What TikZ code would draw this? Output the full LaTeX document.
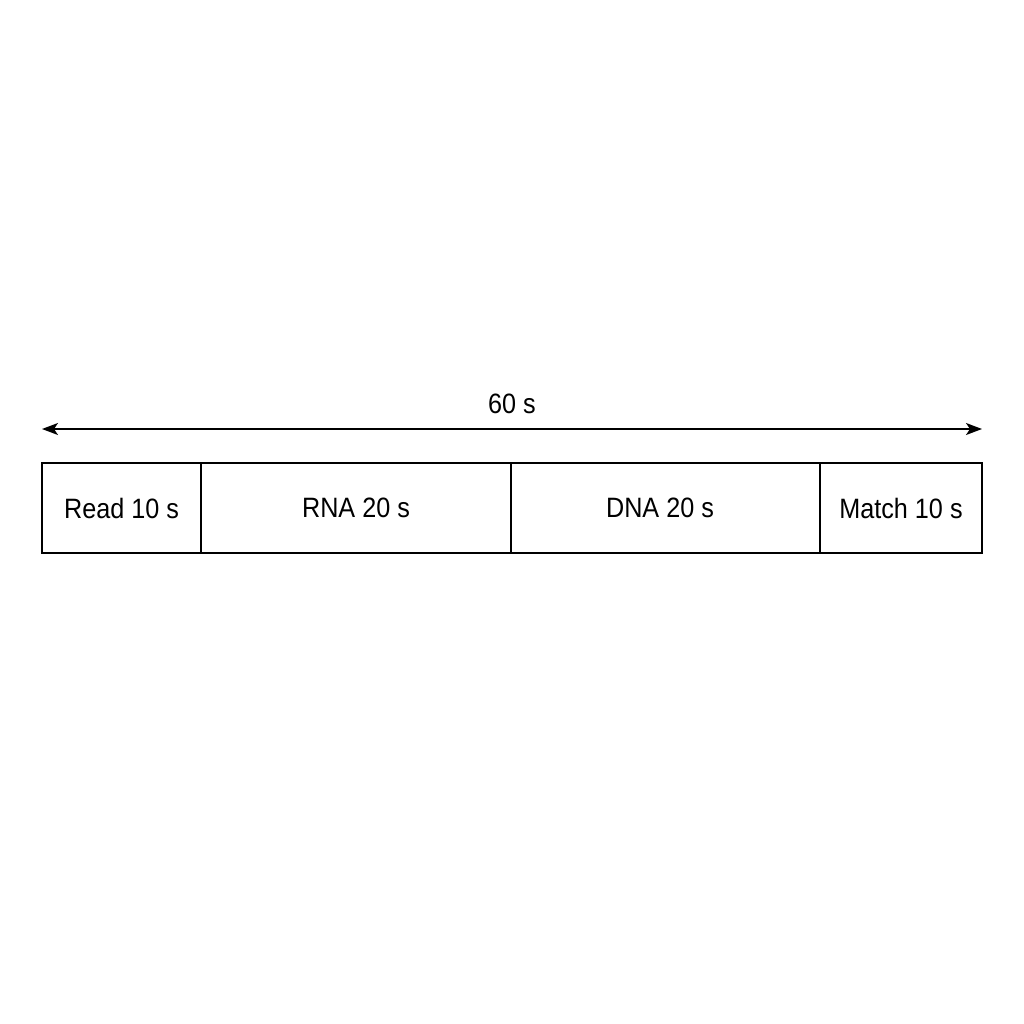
\documentclass[tikz,border=0pt]{standalone}
\usepackage{fontspec}
\setmainfont{Liberation Sans}[FakeStretch=0.9]
\usetikzlibrary{arrows.meta}
\begin{document}
\begin{tikzpicture}[x=1pt,y=1pt,
  seg/.style={draw, line width=1.8pt, minimum height=90pt, inner sep=0pt, anchor=center,
    font=\fontsize{28}{33}\selectfont},
  lbl/.style={font=\fontsize{28}{33}\selectfont, inner sep=0pt}]
\useasboundingbox[fill=white] (0,0) rectangle (1024,-1024);
\node[seg, minimum width=159pt] (read) at (121.5,-508) {Read 10 s};
\node[seg, minimum width=310pt] (rna) at (356,-508) {RNA 20 s};
\node[seg, minimum width=309pt] (dna) at (665.5,-508) {\hspace*{-11pt}DNA 20 s};
\node[seg, minimum width=162pt] (match) at (901,-508) {Match 10 s};
\coordinate (aL) at (42,-429);
\coordinate (aR) at (982,-429);
\draw[line width=1.6pt, {Stealth[length=16pt,width=12pt,inset=4pt]}-{Stealth[length=16pt,width=12pt,inset=4pt]}] (aL) -- (aR);
\node[lbl] (total) at (512,-404) {60 s};
\end{tikzpicture}
\end{document}
